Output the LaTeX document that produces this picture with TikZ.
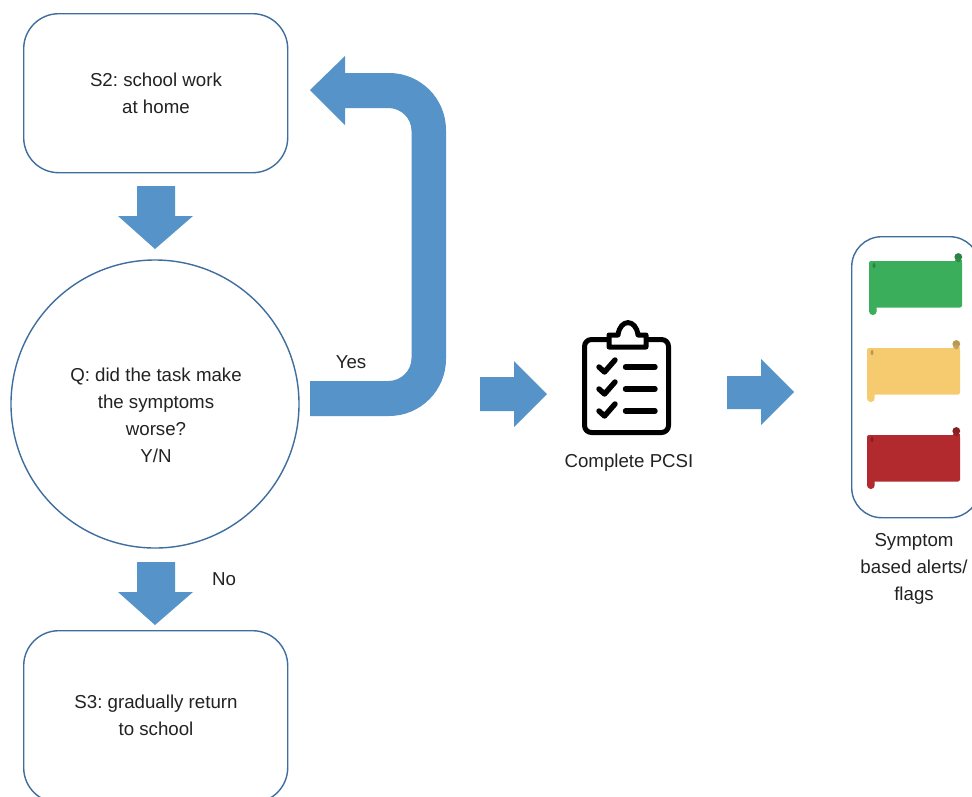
\documentclass[tikz,border=0pt]{standalone}
\usepackage{fontspec}
\setmainfont{Liberation Sans}
\definecolor{arrowblue}{HTML}{5593C8}
\definecolor{edgeblue}{HTML}{3F6E9E}
\definecolor{inktext}{HTML}{222222}
\definecolor{flaggreen}{HTML}{3BAE5B}
\definecolor{flagyellow}{HTML}{F6CB70}
\definecolor{flagred}{HTML}{B2292E}
\tikzset{
  x=1pt,y=-1pt,
  label text/.style={text=inktext,font=\fontsize{18.7}{27}\selectfont\frenchspacing,align=center,inner sep=0pt},
  stepbox/.style={draw=edgeblue,line width=1.4pt,rounded corners=35pt,inner sep=0pt,anchor=north west,fill=white},
  blockarrow/.style={fill=arrowblue,draw=none},
  ink/.style={draw=black,line width=5pt,line cap=round,line join=round},
}
\begin{document}
\begin{tikzpicture}
\useasboundingbox (0,0) rectangle (972,796);
\clip (0,0) rectangle (972,796);
\fill[white] (0,0) rectangle (972,796);
% process boxes
\node[stepbox,minimum width=264pt,minimum height=159pt] (s2) at (23,13) {};
\node[stepbox,minimum width=264pt,minimum height=172pt] (s3) at (23,630) {};
\node[draw=edgeblue,line width=1.4pt,circle,minimum size=288pt,inner sep=0pt] (q) at (155,404) {};
\node[stepbox,rounded corners=30pt,minimum width=128pt,minimum height=281pt] (alerts) at (851,236) {};
% labels
\node[label text] (s2t) at (156,93.5) {S2: school work\\at home};
\node[label text] (qt) at (156,415.5) {Q: did the task make\\the symptoms\\worse?\\Y/N};
\node[label text] (s3t) at (156,715.5) {S3: gradually return\\to school};
\node[label text] (yes) at (351,362) {Yes};
\node[label text] (no) at (224,579) {No};
\node[label text] (pcsi) at (629,463) {Complete PCSI};
\node[label text] (flagt) at (914,569) {Symptom\\based alerts/\\flags};
% block arrows
\path[blockarrow] (137,186) -- (175,186) -- (175,216) -- (193,216) -- (155,249) -- (118,216) -- (137,216) -- cycle;
\path[blockarrow] (137,562) -- (175,562) -- (175,592) -- (193,592) -- (155,625) -- (118,592) -- (137,592) -- cycle;
\path[blockarrow] (480,377) -- (514,377) -- (514,361) -- (547,394) -- (514,427) -- (514,411) -- (480,411) -- cycle;
\path[blockarrow] (727,376) -- (761,376) -- (761,359) -- (794,392) -- (761,425) -- (761,409) -- (727,409) -- cycle;
\path[blockarrow] (310,416) -- (389,416)
  .. controls (420.5,416) and (446,390.5) .. (446,359)
  -- (446,130)
  .. controls (446,98.5) and (420.5,73) .. (389,73)
  -- (345,73) -- (345,56) -- (310,90) -- (345,125) -- (345,108) -- (388,108)
  .. controls (401,108) and (411.5,118) .. (411.5,131)
  -- (411.5,358)
  .. controls (411.5,371) and (401,381) .. (388,381)
  -- (310,381) -- cycle;
% clipboard
\draw[ink,rounded corners=7pt] (608,339.5) -- (584.5,339.5) -- (584.5,432.5) -- (668.5,432.5) -- (668.5,339.5) -- (647,339.5);
\draw[ink] (609,347) -- (609,335) -- (618,335) .. controls (620,318.5) and (636,318.5) .. (638,335) -- (646,335) -- (646,347) -- cycle;
\foreach \d in {0,22,44}{
  \draw[ink,line width=5.4pt] (599,{367+\d}) -- (604.5,{372+\d}) -- (615,{360+\d});
  \draw[ink,line width=5.4pt] (625.5,{367+\d}) -- (655,{367+\d});
}
% flags
\foreach \fc/\fx/\fy in {flaggreen/869/261,flagyellow/867/348,flagred/867/435}{
  \fill[\fc!75!black] ({\fx+89.3},{\fy-4}) circle[radius=3.9pt];
  \fill[\fc,rounded corners=2pt] (\fx,\fy) rectangle ({\fx+93},{\fy+46.5});
  \fill[\fc] ({\fx+85.5},{\fy-1}) rectangle ({\fx+93},{\fy+4});
  \fill[\fc,rounded corners=3.7pt] (\fx,{\fy+20}) rectangle ({\fx+7.7},{\fy+54});
  \fill[\fc!75!black] ({\fx+5},{\fy+4.5}) ellipse[x radius=1.5pt,y radius=2.6pt];
  \fill[\fc!80!black] ({\fx+89.3},{\fy-1}) ellipse[x radius=2.2pt,y radius=2.4pt];
}
\end{tikzpicture}
\end{document}
